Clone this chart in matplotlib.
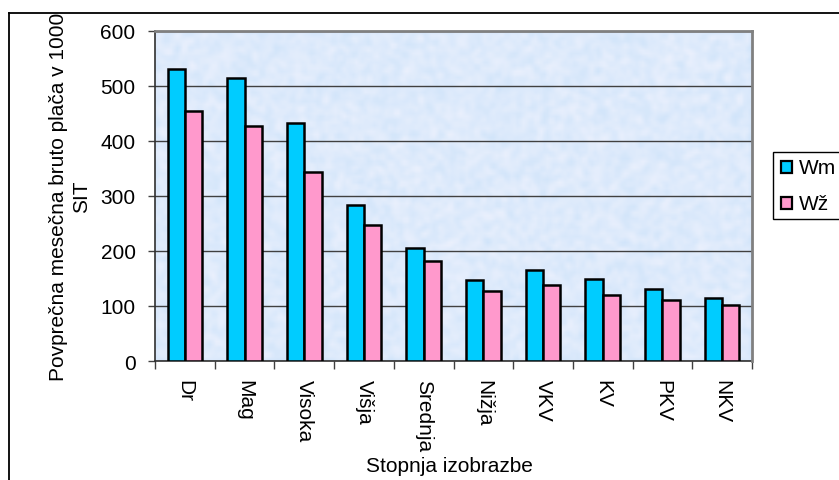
import numpy as np
import matplotlib
matplotlib.use("Agg")
import matplotlib.pyplot as plt
from matplotlib.patches import Rectangle
from matplotlib.lines import Line2D

plt.rcParams['font.family'] = ['Liberation Sans', 'DejaVu Sans']

categories = ["Dr", "Mag", "Visoka", "Višja", "Srednja", "Nižja", "VKV", "KV", "PKV", "NKV"]
wm = [531, 514, 433, 283, 205, 148, 165, 150, 131, 114]
wz = [455, 428, 344, 247, 182, 127, 138, 120, 111, 102]
series_names = ["Wm", "Wž"]
series_colors = ["#00ccff", "#ff99cc"]
y_ticks = [0, 100, 200, 300, 400, 500, 600]

W, H = 839, 481
FS = 15
fig = plt.figure(figsize=(W / 100, H / 100), dpi=100)

def fx(px):
    return px / W

def fy(py):
    return 1 - py / H

# plot area
left, right, top, bottom = 155, 752, 32, 362
ax = fig.add_axes([fx(left), fy(bottom), fx(right - left), (bottom - top) / H])

# mottled light-blue fill behind the bars
rng = np.random.default_rng(7)
noise = rng.random((110, 200))
k = np.array([0.25, 0.5, 0.25])
noise = np.apply_along_axis(lambda r: np.convolve(r, k, mode='same'), 1, noise)
noise = np.apply_along_axis(lambda c: np.convolve(c, k, mode='same'), 0, noise)
noise = (noise - noise.min()) / (noise.max() - noise.min())
c1 = np.array([208, 228, 250]) / 255
c2 = np.array([236, 241, 253]) / 255
tex = c1[None, None, :] * (1 - noise[..., None]) + c2[None, None, :] * noise[..., None]
ax.imshow(tex, extent=[0, 1, 0, 1], transform=ax.transAxes, aspect='auto',
          interpolation='bilinear', zorder=0)

x = np.arange(len(categories))
bw = 0.29
ax.bar(x - bw / 2, wm, width=bw, color=series_colors[0], edgecolor='black', linewidth=1.8, zorder=3)
ax.bar(x + bw / 2, wz, width=bw, color=series_colors[1], edgecolor='black', linewidth=1.8, zorder=3)

ax.set_xlim(-0.5, len(categories) - 0.5)
ax.set_ylim(0, 600)
ax.set_yticks(y_ticks)
ax.set_yticklabels([str(v) for v in y_ticks], fontsize=FS)
ax.yaxis.grid(True, color='#404040', linewidth=1.0)
for gl in ax.get_ygridlines():
    gl.set_zorder(1)

# category ticks on boundaries, labels centered
ax.set_xticks(np.arange(-0.5, len(categories), 1.0))
ax.set_xticklabels([])
ax.set_xticks(x, minor=True)
ax.set_xticklabels(categories, minor=True, rotation=270, fontsize=FS, va='top', ha='center')
ax.tick_params(axis='x', which='minor', length=0, pad=13)
ax.tick_params(axis='x', which='major', length=6, width=1, color='#404040', direction='out')
ax.tick_params(axis='y', length=5, width=1, color='#404040', pad=9)

for s in ['left', 'bottom']:
    ax.spines[s].set_color('#303030')
    ax.spines[s].set_linewidth(1.2)
for s in ['top', 'right']:
    ax.spines[s].set_color('#808080')
    ax.spines[s].set_linewidth(2)
    ax.spines[s].set_zorder(4)

# axis titles
fig.text(fx(70), fy(197), "Povprečna mesečna bruto plača v 1000\nSIT", rotation=90,
         ha='center', va='center', multialignment='center', fontsize=FS, linespacing=1.3)
fig.text(fx(449), fy(466), "Stopnja izobrazbe", ha='center', va='center', fontsize=FS)

# outer chart frame
fig.add_artist(Line2D([fx(9), 1.0], [fy(14), fy(14)], color='black', linewidth=1.3))
fig.add_artist(Line2D([fx(9), fx(9)], [fy(14), 0], color='black', linewidth=1.3))

# legend box running off the right edge
fig.add_artist(Rectangle((fx(773), fy(220)), fx(80), (220 - 153) / H, transform=fig.transFigure,
                         facecolor='white', edgecolor='black', linewidth=1.0))
for i, (name, col) in enumerate(zip(series_names, series_colors)):
    yc = 168 + i * 36
    fig.add_artist(Rectangle((fx(781), fy(yc + 5.5)), fx(11), 11 / H, transform=fig.transFigure,
                             facecolor=col, edgecolor='black', linewidth=1.6))
    fig.text(fx(799), fy(yc), name, ha='left', va='center', fontsize=FS)

fig.savefig("out.png", dpi=100)
